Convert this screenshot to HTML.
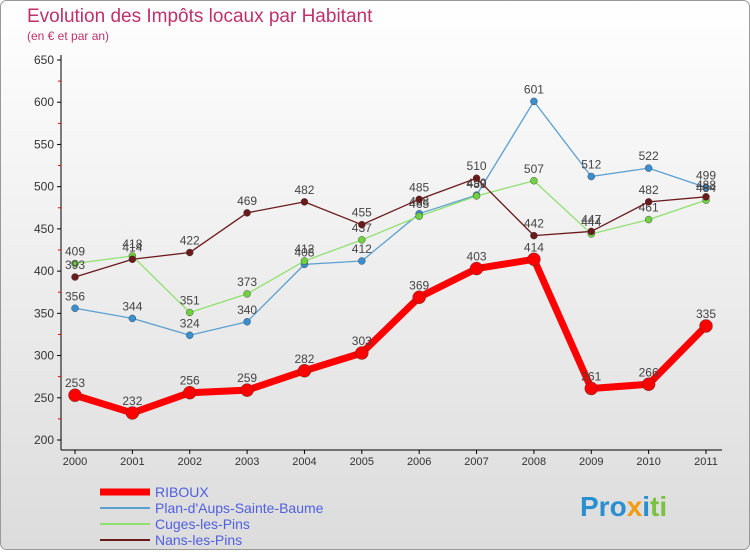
<!DOCTYPE html>
<html><head><meta charset="utf-8"><style>
body{margin:0;background:#fff}
#c{width:750px;height:550px;position:relative;font-family:"Liberation Sans",sans-serif}
svg text{font-family:"Liberation Sans",sans-serif}
</style></head><body>
<div id="c">
<svg id="s" width="750" height="550" xmlns="http://www.w3.org/2000/svg">
<defs><linearGradient id="bg" x1="0" y1="0" x2="0" y2="1"><stop offset="0" stop-color="#ffffff"/><stop offset="1" stop-color="#dcdcdc"/></linearGradient></defs>
<rect x="0.5" y="0.5" width="749" height="549" rx="6" fill="url(#bg)" stroke="#999"/>
<text x="27" y="22" font-size="19" fill="#c0306a">Evolution des Impôts locaux par Habitant</text>
<text x="27" y="40" font-size="12" fill="#c0306a">(en € et par an)</text>
<g id="g"></g>
<text x="580" y="516" font-size="28" font-weight="bold"><tspan fill="#2a8fd0">Pro</tspan><tspan fill="#f39c12">x</tspan><tspan fill="#2a8fd0">i</tspan><tspan fill="#7cc142">ti</tspan></text>
</svg>
</div>
<script>
const years=["2000","2001","2002","2003","2004","2005","2006","2007","2008","2009","2010","2011"];
const yTicks=[200,250,300,350,400,450,500,550,600,650];
const riboux=[253,232,256,259,282,303,369,403,414,261,266,335];
const plan=[356,344,324,340,408,412,468,490,601,512,522,499];
const cuges=[409,418,351,373,412,437,465,489,507,444,461,484];
const nans=[393,414,422,469,482,455,485,510,442,447,482,488];
const names=["RIBOUX","Plan-d'Aups-Sainte-Baume","Cuges-les-Pins","Nans-les-Pins"];
const NS="http://www.w3.org/2000/svg";
const g=document.getElementById('g');
const X=i=>75+i*(706-75)/11;
const Y=v=>440-(v-200)*380/450;
function el(t,a,p){const e=document.createElementNS(NS,t);for(const k in a)e.setAttribute(k,a[k]);(p||g).appendChild(e);return e;}
let ax=el('line',{x1:61,y1:55,x2:61,y2:450,stroke:'#000'});


let xa=el('line',{x1:61,y1:450,x2:722,y2:450,stroke:'#000'});


yTicks.forEach((v,i)=>{
 el('line',{x1:57,x2:61,y1:Y(v),y2:Y(v),stroke:'#000'});
 if(i<yTicks.length-1)el('line',{x1:58,x2:61,y1:Y(v+25),y2:Y(v+25),stroke:'#e00'});
 const t=el('text',{x:54,y:Y(v)+4,'font-size':12,fill:'#333','text-anchor':'end'});t.textContent=v;
 
 
});
years.forEach((y,i)=>{
 el('line',{x1:X(i),x2:X(i),y1:450,y2:454,stroke:'#000'});
 const t=el('text',{x:X(i),y:465,'font-size':11,fill:'#333','text-anchor':'middle'});t.textContent=y;
 
 
});
function series(d,col,w,r,dot,name,above){
 const p=el('polyline',{points:d.map((v,i)=>X(i)+','+Y(v)).join(' '),fill:'none',stroke:col,'stroke-width':w,'stroke-linejoin':'round'});
 
 
 d.forEach((v,i)=>{
  const c=el('circle',{cx:X(i),cy:Y(v),r:r,fill:dot,stroke:'#333','stroke-width':0.4});
  
  
  const t=el('text',{x:X(i),y:Y(v)-(above?8:8),'font-size':12,fill:'#444','text-anchor':'middle'});t.textContent=v;
  
  
 });
}
series(plan,'#5aa0d0',1.3,3.5,'#3a8fd0','plan',1);
series(cuges,'#90e070',1.3,3.5,'#70d040','cuges',1);
series(nans,'#6b1a1a',1.3,3.5,'#6b1a1a','nans',1);
series(riboux,'#f00',7,6.5,'#f00','riboux',1);
const lc=['#f00','#5aa0d0','#90e070','#6b1a1a'],lw=[7,2,2,2];
names.forEach((n,i)=>{
 const y=492+i*16;
 const l=el('line',{x1:100,x2:150,y1:y,y2:y,stroke:lc[i],'stroke-width':lw[i]});
 
 
 const t=el('text',{x:155,y:y+5,'font-size':14,fill:'#5060e0'});t.textContent=n;
 
 
});
</script>
</body></html>
